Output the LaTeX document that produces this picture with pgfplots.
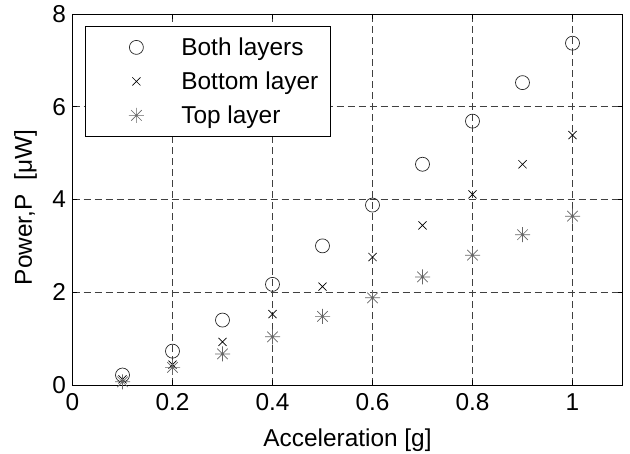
\documentclass[border=0pt]{standalone}
\usepackage{pgfplots}
\pgfplotsset{compat=1.18}
\usepackage{fontspec}
\setmainfont{Liberation Sans}

% MATLAB-style asterisk: plus and cross on top of each other
\pgfdeclareplotmark{mstar}{%
  \pgfpathmoveto{\pgfqpoint{-\pgfplotmarksize}{0pt}}%
  \pgfpathlineto{\pgfqpoint{\pgfplotmarksize}{0pt}}%
  \pgfpathmoveto{\pgfqpoint{0pt}{-\pgfplotmarksize}}%
  \pgfpathlineto{\pgfqpoint{0pt}{\pgfplotmarksize}}%
  \pgfpathmoveto{\pgfqpoint{-.7\pgfplotmarksize}{-.7\pgfplotmarksize}}%
  \pgfpathlineto{\pgfqpoint{.7\pgfplotmarksize}{.7\pgfplotmarksize}}%
  \pgfpathmoveto{\pgfqpoint{-.7\pgfplotmarksize}{.7\pgfplotmarksize}}%
  \pgfpathlineto{\pgfqpoint{.7\pgfplotmarksize}{-.7\pgfplotmarksize}}%
  \pgfusepathqstroke}

\begin{document}
\begin{tikzpicture}
	\begin{axis}[
		at={(0,0)}, anchor=south west,
		scale only axis,
		width=550bp, height=371bp,
		xmin=0, xmax=1.1,
		ymin=0, ymax=8,
		xtick={0,0.2,0.4,0.6,0.8,1},
		ytick={0,2,4,6,8},
		tick align=inside,
		tick pos=both,
		major tick length=5bp,
		axis line style={line width=0.8bp},
		every tick/.style={black, line width=0.6bp},
		grid=major,
		major grid style={black!75, line width=0.6bp, dash pattern=on 7bp off 4bp},
		font=\fontsize{24.5}{29}\selectfont,
		ticklabel style={font=\fontsize{24.5}{29}\selectfont},
		/pgf/number format/assume math mode=true,
		xticklabel style={yshift=-5bp},
		yticklabel style={xshift=-3bp},
		xlabel={Acceleration [g]},
		ylabel={Power,P\ \ [μW]},
		xlabel style={at={(axis description cs:0.5,0)}, anchor=base, yshift=-61bp},
		ylabel style={at={(axis description cs:-0.0855,0.478)}, anchor=center},
		legend style={at={(axis description cs:0.0227,0.9677)}, anchor=north west,
			draw=black, line width=0.8bp, fill=white,
			inner xsep=4bp, inner ysep=4bp, row sep=0bp,
			font=\fontsize{24.5}{29}\selectfont,
			nodes={inner sep=0pt}},
		legend cell align=left,
		legend image code/.code={%
			\path[draw=none, fill=none] (-47bp,-17bp) rectangle (45bp,17bp);
			\draw[#1] plot coordinates {(0bp,0bp)};},
	]
		\addplot [only marks, mark=o, mark size=7bp, draw=black!85, line width=0.7bp] coordinates {
			(0.1,0.215) (0.2,0.73) (0.3,1.40) (0.4,2.17) (0.5,3.00)
			(0.6,3.88) (0.7,4.76) (0.8,5.69) (0.9,6.52) (1.0,7.37)};
		\addlegendentry{Both layers}
		\addplot [only marks, mark=x, mark size=5.7bp, draw=black, line width=0.7bp] coordinates {
			(0.1,0.12) (0.2,0.44) (0.3,0.93) (0.4,1.53) (0.5,2.12)
			(0.6,2.76) (0.7,3.44) (0.8,4.11) (0.9,4.76) (1.0,5.39)};
		\addlegendentry{Bottom layer\hspace*{8bp}}
		\addplot [only marks, mark=mstar, mark size=7.5bp, draw=black!60, line width=0.7bp] coordinates {
			(0.1,0.07) (0.2,0.38) (0.3,0.67) (0.4,1.04) (0.5,1.48)
			(0.6,1.88) (0.7,2.33) (0.8,2.80) (0.9,3.24) (1.0,3.64)};
		\addlegendentry{Top layer}
	\end{axis}
	\pgfresetboundingbox
	\path (-72.5bp,-69bp) rectangle (557.5bp,385bp);
\end{tikzpicture}
\end{document}
